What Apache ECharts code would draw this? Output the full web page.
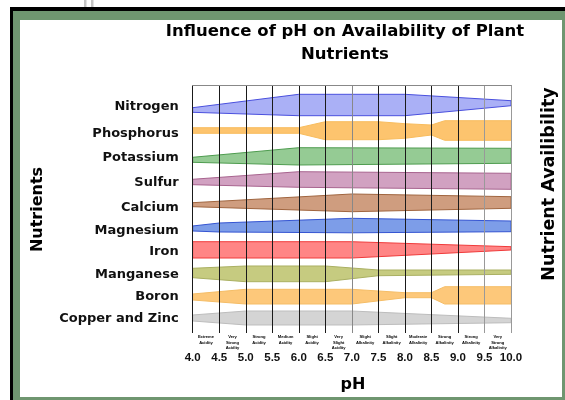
<!DOCTYPE html>
<html><head><meta charset="utf-8">
<script src="https://cdn.jsdelivr.net/npm/echarts@6/dist/echarts.min.js"></script>
<style>html,body{margin:0;padding:0;background:#fff}#c{width:565px;height:400px}</style>
</head><body><div id="c"></div>
<script>
// ---- data ----
const nutrients = ['Nitrogen','Phosphorus','Potassium','Sulfur','Calcium','Magnesium','Iron','Manganese','Boron','Copper and Zinc'];
// row label positions on the (inverted) row axis
const labelPos = [0.89,1.95,2.93,3.94,4.95,5.89,6.73,7.65,8.54,9.44];
const phTicks = [4.0,4.5,5.0,5.5,6.0,6.5,7.0,7.5,8.0,8.5,9.0,9.5,10.0];
const zoneMid = [4.25,4.75,5.25,5.75,6.25,6.75,7.25,7.75,8.25,8.75,9.25,9.75];
const zoneNames = ['Extreme\nAcidity','Very\nStrong\nAcidity','Strong\nAcidity','Medium\nAcidity','Slight\nAcidity','Very\nSlight\nAcidity','Slight\nAlkalinity','Slight\nAlkalinity','Moderate\nAlkalinity','Strong\nAlkalinity','Strong\nAlkalinity','Very\nStrong\nAlkalinity'];
// band outline: pH points, upper edge and lower edge (row-axis units)
const bandPH = [
  [4.0,6.0,8.0,10.0],
  [4.0,6.0,6.5,7.5,8.0,8.5,8.75,10.0],
  [4.0,6.0,10.0],
  [4.0,6.0,10.0],
  [4.0,7.0,10.0],
  [4.0,4.5,7.0,10.0],
  [4.0,7.0,10.0],
  [4.0,5.0,6.5,7.5,10.0],
  [4.0,5.0,7.0,8.0,8.5,8.75,10.0],
  [4.0,5.0,7.0,10.0]
];
const bandTop = [
  [0.915,0.375,0.375,0.633],
  [1.722,1.722,1.480,1.480,1.560,1.613,1.440,1.440],
  [2.915,2.528,2.552],
  [3.802,3.496,3.560],
  [4.746,4.395,4.504],
  [5.685,5.565,5.375,5.484],
  [6.319,6.319,6.520],
  [7.391,7.298,7.298,7.460,7.460],
  [8.427,8.238,8.238,8.375,8.375,8.133,8.133],
  [9.274,9.113,9.113,9.407]
];
const bandBottom = [
  [1.101,1.238,1.238,0.835],
  [1.948,1.948,2.206,2.206,2.149,2.016,2.230,2.230],
  [3.117,3.226,3.157],
  [4.020,4.125,4.206],
  [4.907,5.109,4.972],
  [5.887,5.927,5.960,5.915],
  [6.976,6.976,6.653],
  [7.770,7.931,7.931,7.690,7.633],
  [8.669,8.831,8.831,8.577,8.577,8.831,8.831],
  [9.516,9.677,9.677,9.585]
];
const fillColors = ['#aab0f6','#fdc46e','#95cb94','#d1a1c1','#cf9d7f','#7d9de8','#ff8585','#c6cb80','#fdc87a','#d4d4d4'];
const lineColors = ['#4a50de','#f8bc5c','#4e9c4f','#a8648f','#a0653f','#3555d2','#f03a3a','#aab062','#f5bd66','#bdbdbd'];
const gridColors = ['#1a1a1a','#1a1a1a','#1a1a1a','#1a1a1a','#1a1a1a','#1a1a1a','#888','#1a1a1a','#1a1a1a','#1a1a1a','#1a1a1a','#999','#999'];

// ---- chart ----
const chart = echarts.init(document.getElementById('c'), null, {renderer:'canvas'});

function renderBand(params, api) {
  const k = api.value(2);
  const xs = bandPH[k];
  const pts = [];
  for (let j = 0; j < xs.length; j++) pts.push(api.coord([xs[j], bandTop[k][j]]));
  for (let j = xs.length - 1; j >= 0; j--) pts.push(api.coord([xs[j], bandBottom[k][j]]));
  return {
    type:'polygon', shape:{points:pts},
    style:{fill:fillColors[k], stroke:lineColors[k], lineWidth:1}
  };
}

const BOLD = 'bold';
chart.setOption({
  animation:false,
  backgroundColor:'#ffffff',
  grid:{left:192.7, right:54, top:85, bottom:67, show:false},
  xAxis:[
    {type:'value', position:'bottom', min:4, max:10, interval:0.5, z:10,
     axisLine:{show:true, lineStyle:{color:'#999', width:1}},
     axisTick:{show:false},
     splitLine:{show:true, lineStyle:{color:gridColors, width:1}},
     axisLabel:{margin:19, color:'#111', fontFamily:'Liberation Sans', fontWeight:BOLD, fontSize:11.5,
       formatter:v => { const i = phTicks.indexOf(v); return i >= 0 ? phTicks[i].toFixed(1) : ''; }}
    },
    {type:'value', position:'bottom', min:4, max:10, z:10,
     axisLine:{show:false}, axisTick:{show:false}, splitLine:{show:false},
     axisLabel:{customValues:zoneMid, margin:1.5, color:'#000', fontFamily:'Liberation Sans', fontWeight:BOLD,
       fontSize:4.1, lineHeight:5.3, verticalAlign:'top',
       formatter:v => zoneNames[zoneMid.indexOf(v)] || ''}
    },
    {type:'value', position:'top', min:4, max:10, z:10,
     axisLine:{show:true, lineStyle:{color:'#888', width:1}}, axisTick:{show:false},
     splitLine:{show:false}, axisLabel:{show:false}
    }
  ],
  yAxis:[
    {type:'value', inverse:true, min:0, max:10,
     axisLine:{show:false}, axisTick:{show:false}, splitLine:{show:false},
     axisLabel:{customValues:labelPos, margin:14, color:'#111', fontFamily:'DejaVu Sans', fontWeight:BOLD, fontSize:13,
       formatter:v => nutrients[labelPos.indexOf(v)] || ''}
    }
  ],
  graphic:[
    // frame
    {type:'rect', shape:{x:10, y:7, width:555, height:4}, style:{fill:'#000'}, silent:true},
    {type:'rect', shape:{x:10, y:7, width:3, height:393}, style:{fill:'#000'}, silent:true},
    {type:'rect', shape:{x:13, y:11, width:552, height:9}, style:{fill:'#6f9670'}, silent:true},
    {type:'rect', shape:{x:13, y:11, width:7, height:389}, style:{fill:'#6f9670'}, silent:true},
    {type:'rect', shape:{x:13, y:397, width:552, height:3}, style:{fill:'#6f9670'}, silent:true},
    {type:'rect', shape:{x:562, y:11, width:3, height:389}, style:{fill:'#6f9670'}, silent:true},
    {type:'rect', shape:{x:84, y:0, width:2.5, height:7}, style:{fill:'#c4c4c4'}, silent:true},
    {type:'rect', shape:{x:91, y:0, width:2.5, height:7}, style:{fill:'#c4c4c4'}, silent:true},
    // texts
    {type:'text', x:345, y:20, silent:true, z:20,
     style:{text:'Influence of pH on Availability of Plant\nNutrients', align:'center', verticalAlign:'top',
       font:'bold 16.5px "DejaVu Sans"', lineHeight:23, fill:'#000'}},
    {type:'text', x:37.5, y:209.5, rotation:Math.PI/2, silent:true, z:20,
     style:{text:'Nutrients', align:'center', verticalAlign:'middle', font:'bold 16px "DejaVu Sans"', fill:'#000'}},
    {type:'text', x:549, y:184, rotation:Math.PI/2, silent:true, z:20,
     style:{text:'Nutrient Availibility', align:'center', verticalAlign:'middle', font:'bold 17.5px "DejaVu Sans"', fill:'#000'}},
    {type:'text', x:353, y:384.5, silent:true, z:20,
     style:{text:'pH', align:'center', verticalAlign:'middle', font:'bold 16px "DejaVu Sans"', fill:'#000'}}
  ],
  series:[{
    type:'custom', name:'Nutrient availability', xAxisIndex:0, yAxisIndex:0, silent:true, z:2,
    renderItem:renderBand,
    data: nutrients.map((n, k) => ({name:n, value:[7, labelPos[k], k]}))
  }]
});
</script></body></html>
